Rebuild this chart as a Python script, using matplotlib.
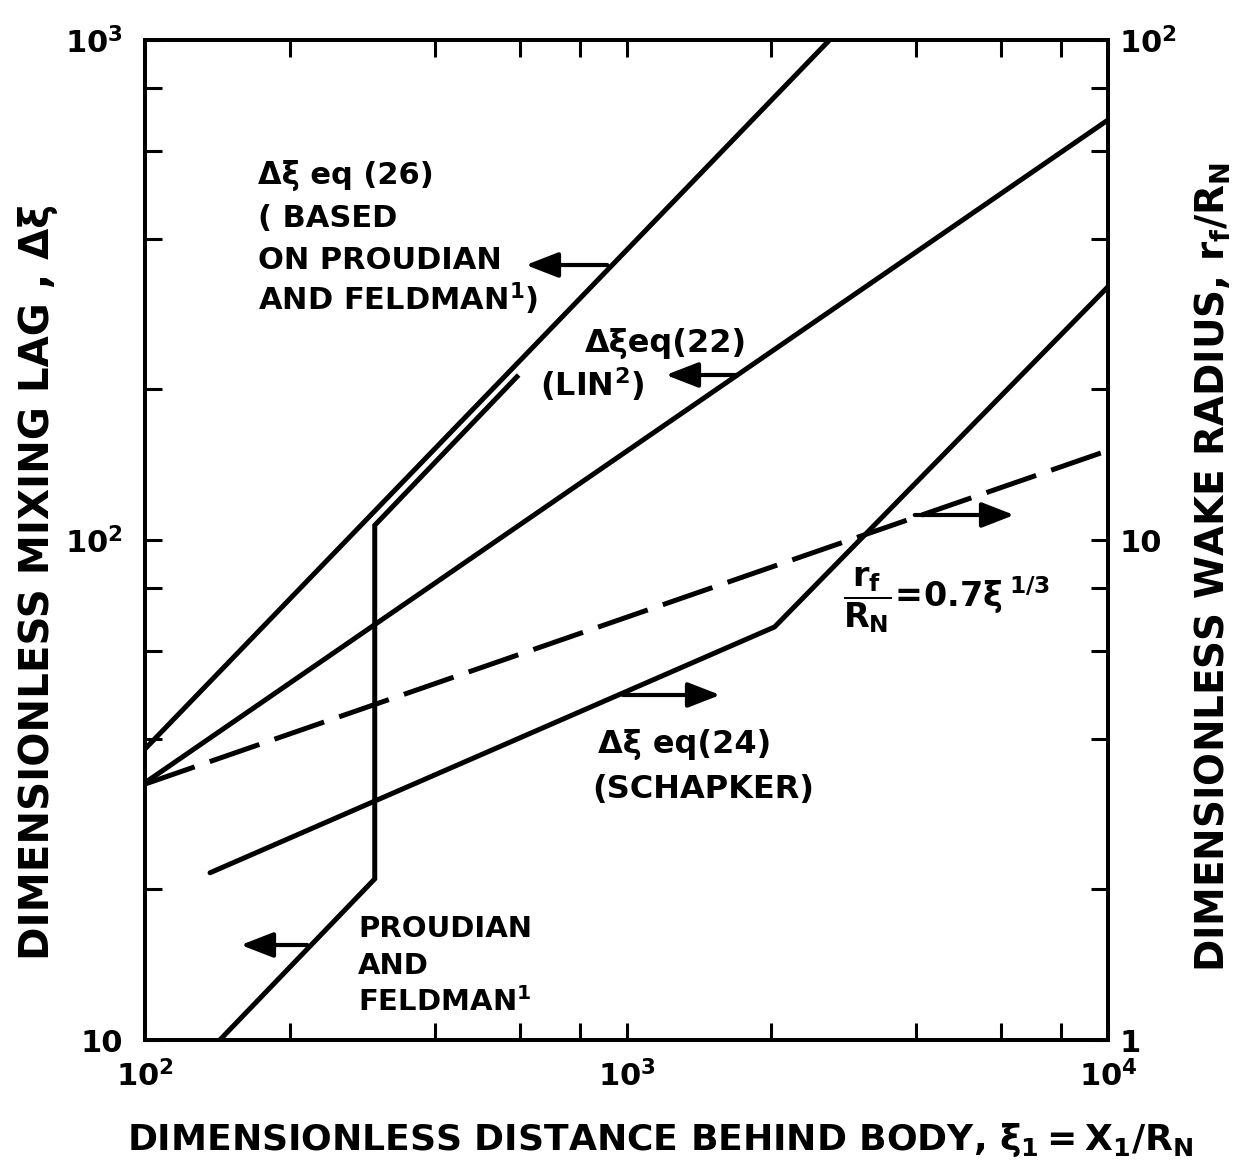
import matplotlib
matplotlib.use("Agg")
import matplotlib.pyplot as plt
from matplotlib import font_manager
from matplotlib.ticker import FixedLocator, FixedFormatter, LogLocator, NullFormatter

# values (log-log)
# left axis: mixing lag  delta-xi
xi_eq26 = [100, 2640]
dxi_eq26 = [38.2, 1000]

xi_eq22 = [100, 10000]
dxi_eq22 = [32.7, 692]

xi_pf = [143, 300, 300, 592]
dxi_pf = [10, 21, 107, 212]

# right axis: wake radius r_f/R_N
xi_eq24 = [136.5, 2030, 10000]
r_eq24 = [2.16, 6.7, 32.1]

xi_rf = [100, 10000]
r_rf = [3.25, 15.1]

x_ticks = [1e2, 1e3, 1e4]
x_ticklabels = ["$10^2$", "$10^3$", "$10^4$"]
yl_ticks = [10, 100, 1000]
yl_ticklabels = ["10", "$10^2$", "$10^3$"]
yr_ticks = [1, 10, 100]
yr_ticklabels = ["1", "10", "$10^2$"]

names = {f.name for f in font_manager.fontManager.ttflist}
narrow = "Liberation Sans Narrow" if "Liberation Sans Narrow" in names else "DejaVu Sans"
wide = "DejaVu Sans"
big = 35 if narrow != wide else 29

plt.rcParams["font.family"] = wide
plt.rcParams["font.weight"] = "bold"
plt.rcParams["mathtext.fontset"] = "custom"
plt.rcParams["mathtext.rm"] = f"{wide}:bold"
plt.rcParams["mathtext.it"] = f"{wide}:bold"
plt.rcParams["mathtext.bf"] = f"{wide}:bold"

W, H = 1237, 1176
fig = plt.figure(figsize=(W / 100, H / 100), dpi=100)
ax = fig.add_axes([145 / W, 1 - 1040 / H, 963 / W, 1000 / H])
ax2 = ax.twinx()

lw = 3.6
ax.loglog(xi_eq26, dxi_eq26, color="black", lw=lw, solid_capstyle="butt")
ax.loglog(xi_eq22, dxi_eq22, color="black", lw=lw, solid_capstyle="butt")
ax.loglog(xi_pf, dxi_pf, color="black", lw=lw, solid_joinstyle="miter")
ax2.loglog(xi_eq24, r_eq24, color="black", lw=lw, solid_capstyle="round")
ax2.loglog(xi_rf, r_rf, color="black", lw=lw, dashes=(10.5, 3.2))

ax.set_xlim(1e2, 1e4)
ax.set_ylim(10, 1e3)
ax2.set_ylim(1, 1e2)

for a in (ax, ax2):
    for s in a.spines.values():
        s.set_linewidth(2.8)
    a.xaxis.set_minor_locator(LogLocator(base=10, subs=[2, 4, 6, 8], numticks=10))
    a.yaxis.set_minor_locator(LogLocator(base=10, subs=[2, 4, 6, 8], numticks=10))
    a.xaxis.set_minor_formatter(NullFormatter())
    a.yaxis.set_minor_formatter(NullFormatter())
    a.tick_params(which="both", direction="in", length=12, width=2.2, top=True)

ax.xaxis.set_major_locator(FixedLocator(x_ticks))
ax.xaxis.set_major_formatter(FixedFormatter(x_ticklabels))
ax.yaxis.set_major_locator(FixedLocator(yl_ticks))
ax.yaxis.set_major_formatter(FixedFormatter(yl_ticklabels))
ax2.yaxis.set_major_locator(FixedLocator(yr_ticks))
ax2.yaxis.set_major_formatter(FixedFormatter(yr_ticklabels))
ax.tick_params(axis="x", which="major", labelsize=22, pad=14)
ax.tick_params(axis="y", which="major", labelsize=22, pad=16, right=False)
ax2.tick_params(axis="y", which="major", labelsize=22, pad=8)
ax.tick_params(axis="y", which="minor", right=False)


def fx(px):
    return px / W


def fy(py):
    return 1 - py / H


# axis titles
fig.text(fx(660), fy(1150), r"DIMENSIONLESS DISTANCE BEHIND BODY, $\xi_1 = X_1/R_N$",
         family=narrow, fontsize=big - 3, ha="center", va="baseline")
fig.text(fx(38), fy(582), "DIMENSIONLESS MIXING LAG , Δξ",
         family=narrow, fontsize=big, rotation=90, ha="center", va="center")
fig.text(fx(1213), fy(567), r"DIMENSIONLESS WAKE RADIUS, $r_f/R_N$",
         family=narrow, fontsize=big - 1, rotation=90, ha="center", va="center")

# curve labels: (text, left px, baseline px, size)
notes = [
    ("Δξ eq (26)", 258, 184, 22),
    ("( BASED", 258, 227, 22),
    ("ON PROUDIAN", 258, 269, 22),
    ("AND FELDMAN$^{1}$)", 258, 310, 22),
    ("Δξeq(22)", 585, 352, 23),
    ("(LIN$^{2}$)", 540, 396, 23),
    ("Δξ eq(24)", 598, 753, 23),
    ("(SCHAPKER)", 592, 798, 23),
    ("PROUDIAN", 358, 937, 21),
    ("AND", 358, 974, 21),
    ("FELDMAN$^{1}$", 358, 1011, 21),
]
for txt, x, y, s in notes:
    fig.text(fx(x), fy(y), txt, fontsize=s, ha="left", va="baseline")

fig.text(fx(843), fy(600), r"$\dfrac{r_f}{R_N}\!=\!0.7\xi^{\,1/3}$",
         fontsize=24, ha="left", va="center")

# arrows pointing to the axis each curve belongs to: (tail, head)
arrows = [
    ((610, 265), (523, 265)),
    ((738, 375), (663, 375)),
    ((912, 515), (1017, 515)),
    ((620, 695), (723, 695)),
    ((310, 945), (238, 945)),
]
for (tx, ty), (hx, hy) in arrows:
    fig.add_artist(matplotlib.patches.FancyArrowPatch(
        (fx(tx), fy(ty)), (fx(hx), fy(hy)), transform=fig.transFigure,
        arrowstyle="-|>,head_length=0.9,head_width=0.35", mutation_scale=22,
        lw=3, color="black"))

fig.savefig("out.png", dpi=100, facecolor="white")
